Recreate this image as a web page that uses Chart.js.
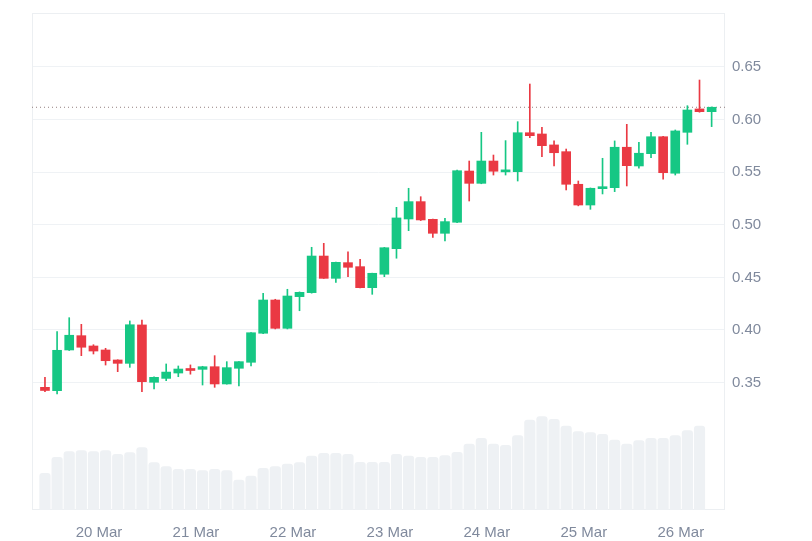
<!DOCTYPE html>
<html><head><meta charset="utf-8">
<script src="https://cdn.jsdelivr.net/npm/chart.js@4"></script>
<style>html,body{margin:0;padding:0;background:#fff}canvas{display:block}</style>
</head><body>
<canvas id="c" width="812" height="541"></canvas>
<script>
// 3-hour candles, 7 days (prices in USD)
const openP  = [0.3455,0.3423,0.3810,0.3946,0.3848,0.3810,0.3715,0.3683,0.4048,0.3503,0.3540,0.3591,0.3625,0.3626,0.3651,0.3487,0.3636,0.3693,0.3969,0.4285,0.4016,0.4317,0.4355,0.4703,0.4491,0.4640,0.4602,0.4402,0.4530,0.4773,0.5055,0.5220,0.5052,0.4919,0.5024,0.5511,0.5394,0.5606,0.5503,0.5505,0.5875,0.5863,0.5759,0.5695,0.5385,0.5188,0.5343,0.5353,0.5737,0.5559,0.5676,0.5837,0.5490,0.5879,0.6101,0.6075];
const highP  = [0.3550,0.3984,0.4117,0.4054,0.3860,0.3826,0.3717,0.4086,0.4095,0.3555,0.3677,0.3658,0.3668,0.3655,0.3756,0.3699,0.3700,0.3976,0.4349,0.4292,0.4387,0.4362,0.4786,0.4824,0.4645,0.4744,0.4672,0.4540,0.4785,0.5166,0.5347,0.5267,0.5055,0.5062,0.5520,0.5606,0.5879,0.5663,0.5800,0.5980,0.6338,0.5927,0.5797,0.5720,0.5416,0.5350,0.5632,0.5797,0.5955,0.5784,0.5879,0.5840,0.5901,0.6132,0.6376,0.6120];
const lowP   = [0.3414,0.3392,0.3805,0.3756,0.3772,0.3667,0.3604,0.3645,0.3414,0.3439,0.3518,0.3556,0.3580,0.3477,0.3455,0.3485,0.3468,0.3658,0.3965,0.4010,0.4010,0.4183,0.4350,0.4490,0.4453,0.4507,0.4400,0.4339,0.4507,0.4682,0.4944,0.5040,0.4881,0.4846,0.5020,0.5226,0.5390,0.5473,0.5473,0.5416,0.5828,0.5647,0.5559,0.5331,0.5180,0.5147,0.5293,0.5315,0.5369,0.5537,0.5638,0.5433,0.5473,0.5765,0.6070,0.5933];
const closeP = [0.3425,0.3807,0.3950,0.3836,0.3800,0.3708,0.3683,0.4050,0.3509,0.3550,0.3600,0.3629,0.3615,0.3651,0.3487,0.3642,0.3699,0.3974,0.4285,0.4016,0.4323,0.4358,0.4703,0.4491,0.4643,0.4596,0.4402,0.4539,0.4782,0.5065,0.5220,0.5046,0.4919,0.5030,0.5514,0.5394,0.5606,0.5509,0.5513,0.5875,0.5847,0.5752,0.5685,0.5385,0.5188,0.5347,0.5362,0.5737,0.5562,0.5680,0.5837,0.5495,0.5892,0.6091,0.6075,0.6117];
// volume per candle (relative units); last candle still open, no bar
const volume = [3.67,5.27,5.83,5.93,5.83,5.93,5.57,5.73,6.23,4.73,4.33,4.07,4.07,3.93,4.07,3.93,3.00,3.40,4.17,4.33,4.60,4.73,5.40,5.67,5.67,5.57,4.77,4.77,4.77,5.57,5.40,5.27,5.27,5.43,5.77,6.60,7.17,6.60,6.47,7.43,9.00,9.33,9.07,8.40,7.83,7.73,7.57,7.00,6.60,6.93,7.17,7.17,7.43,7.93,8.40,null];
// x axis: hours since 19 Mar 00:00
const dateLabels = ['20 Mar','21 Mar','22 Mar','23 Mar','24 Mar','25 Mar','26 Mar'];
const dateHours  = [24,48,72,96,120,144,168];
const priceTicks = [0.35,0.40,0.45,0.50,0.55,0.60,0.65];
const firstCandleHour = 10.63;
const candleStepHours = 3;

const times = openP.map((_, i) => firstCandleHour + i * candleStepHours);
const UP = '#16c784', DOWN = '#ea3943';
const isUp = i => closeP[i] >= openP[i];
const colorOf = ctx => isUp(ctx.dataIndex) ? UP : DOWN;
const lastClose = closeP[closeP.length - 1];
const X_MIN = 7.42, X_MAX = 178.94;

const framePlugin = {
  id: 'frame',
  beforeDatasetsDraw(chart) {
    const { ctx, chartArea: a } = chart;
    ctx.save();
    ctx.strokeStyle = '#eceff2';
    ctx.lineWidth = 1;
    ctx.strokeRect(a.left + 0.5, a.top + 0.5, a.right - a.left - 1, a.bottom - a.top - 1);
    ctx.restore();
  }
};

new Chart(document.getElementById('c'), {
  type: 'bar',
  data: {
    datasets: [
      {
        label: 'Last price',
        type: 'line',
        data: [{ x: X_MIN, y: lastClose }, { x: X_MAX, y: lastClose }],
        borderColor: 'rgba(120,95,95,0.8)',
        borderWidth: 1,
        borderDash: [1, 3],
        pointRadius: 0,
        yAxisID: 'y',
        order: 2
      },
      {
        label: 'Volume',
        data: times.map((t, i) => ({ x: t, y: volume[i] })),
        backgroundColor: '#eef1f4',
        barThickness: 10.5,
        borderRadius: 3,
        grouped: false,
        yAxisID: 'yv',
        order: 5
      },
      {
        label: 'Wick',
        data: times.map((t, i) => ({ x: t, y: [lowP[i], highP[i]] })),
        backgroundColor: colorOf,
        barThickness: 1,
        grouped: false,
        yAxisID: 'y',
        order: 1
      },
      {
        label: 'Body',
        data: times.map((t, i) => ({ x: t, y: [Math.min(openP[i], closeP[i]), Math.max(openP[i], closeP[i])] })),
        backgroundColor: colorOf,
        barThickness: 9,
        minBarLength: 2,
        grouped: false,
        yAxisID: 'y',
        order: 0
      }
    ]
  },
  options: {
    responsive: false,
    animation: false,
    devicePixelRatio: 1,
    layout: { padding: { left: 32, top: 13, right: 0, bottom: 0 } },
    plugins: { legend: { display: false }, tooltip: { enabled: false } },
    scales: {
      x: {
        type: 'linear',
        min: X_MIN, max: X_MAX,
        offset: false,
        grid: { display: false, drawTicks: false },
        border: { display: false },
        afterBuildTicks: s => { s.ticks = dateHours.map(v => ({ value: v })); },
        afterFit: s => { s.height = 31; s.paddingLeft = 0; s.paddingRight = 0; },
        ticks: {
          autoSkip: false, maxRotation: 0,
          padding: 14,
          color: '#808a9d',
          font: { family: 'Liberation Sans, Arial, sans-serif', size: 15 },
          callback: v => dateLabels[dateHours.indexOf(v)] || ''
        }
      },
      y: {
        position: 'right',
        min: 0.2289, max: 0.7013,
        grid: { color: '#eff2f5', drawTicks: false },
        border: { display: false },
        afterBuildTicks: s => { s.ticks = priceTicks.map(v => ({ value: v })); },
        afterFit: s => { s.width = 87; s.paddingTop = 0; s.paddingBottom = 0; },
        ticks: {
          padding: 7,
          color: '#808a9d',
          font: { family: 'Liberation Sans, Arial, sans-serif', size: 15 },
          callback: v => Number(v).toFixed(2)
        }
      },
      yv: {
        display: false,
        min: 0, max: 49.7
      }
    }
  },
  plugins: [framePlugin]
});
</script>
</body></html>
